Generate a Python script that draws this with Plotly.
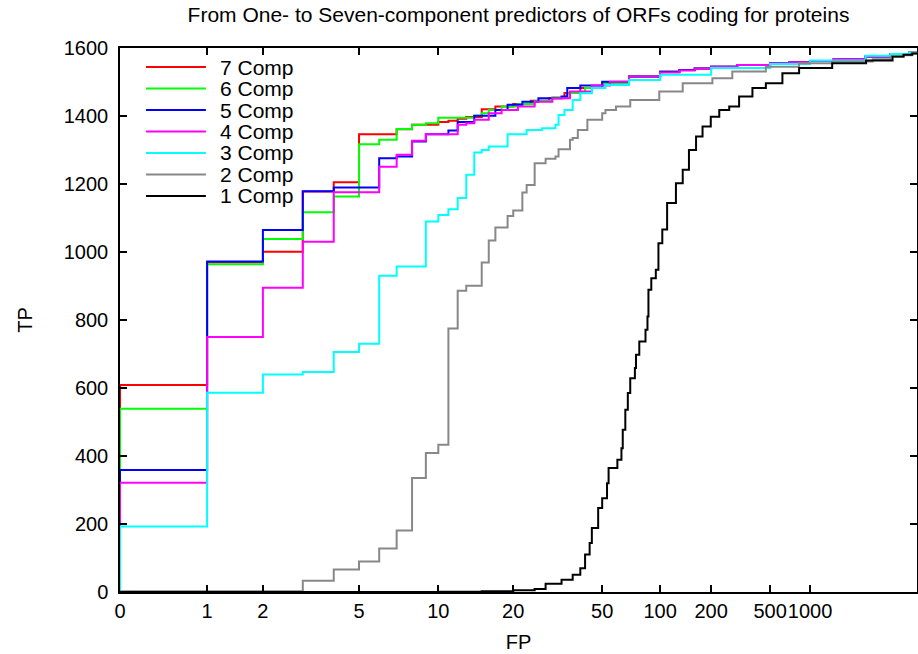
import numpy as np
import plotly.graph_objects as go

# ---------------- data ----------------
FP7 = [0, 0, 1, 2, 3, 4, 5, 7, 8, 10, 11, 12, 13, 15, 17, 20, 24, 29, 34, 40, 50, 69, 100, 130, 160, 200, 300, 500, 700, 1000, 1500, 2600, 4000, 5500, 6300]
TP7 = [0, 609, 970, 1001, 1178, 1205, 1346, 1361, 1374, 1382, 1386, 1392, 1397, 1420, 1428, 1435, 1445, 1452, 1468, 1482, 1496, 1516, 1530, 1535, 1540, 1545, 1550, 1555, 1558, 1562, 1567, 1575, 1582, 1586, 1588]

FP6 = [0, 0, 1, 2, 3, 4, 5, 6, 7, 8, 9, 10, 14, 15, 16, 18, 21, 25, 30, 35, 42, 50, 69, 100, 130, 160, 200, 300, 500, 700, 1000, 1500, 2600, 4000, 5500, 6300]
TP6 = [0, 539, 964, 1038, 1117, 1163, 1317, 1330, 1362, 1374, 1379, 1395, 1401, 1408, 1418, 1428, 1435, 1445, 1455, 1468, 1482, 1496, 1516, 1530, 1535, 1540, 1545, 1550, 1555, 1558, 1562, 1567, 1575, 1582, 1586, 1588]

FP5 = [0, 0, 1, 2, 3, 4, 6, 7, 8, 9, 11, 12, 14, 17, 19, 22, 26, 33, 35, 40, 50, 69, 100, 130, 160, 200, 300, 500, 700, 1000, 1500, 2600, 4000, 5500, 6300]
TP5 = [0, 359, 972, 1065, 1179, 1190, 1276, 1281, 1325, 1346, 1357, 1382, 1401, 1418, 1433, 1442, 1452, 1457, 1482, 1490, 1501, 1516, 1530, 1535, 1540, 1545, 1550, 1555, 1558, 1562, 1567, 1575, 1582, 1586, 1588]

FP4 = [0, 0, 1, 2, 3, 4, 6, 7, 8, 9, 12, 13, 14, 16, 18, 21, 25, 30, 36, 45, 55, 69, 100, 130, 160, 200, 300, 500, 700, 1000, 1500, 2600, 4000, 5500, 6300]
TP4 = [0, 321, 750, 895, 1030, 1176, 1251, 1286, 1327, 1346, 1374, 1379, 1389, 1408, 1418, 1428, 1442, 1452, 1472, 1490, 1501, 1516, 1528, 1534, 1539, 1545, 1550, 1555, 1558, 1562, 1567, 1575, 1582, 1586, 1588]

FP3 = [0, 0, 1, 2, 3, 4, 5, 6, 7, 9, 10, 11, 12, 13, 14, 15, 16, 19, 23, 27, 31, 32, 34, 37, 40, 45, 52, 69, 100, 200, 500, 1000, 2600, 4000, 5500, 6300]
TP3 = [0, 193, 586, 640, 647, 706, 730, 930, 957, 1090, 1109, 1126, 1159, 1227, 1293, 1300, 1310, 1346, 1359, 1364, 1374, 1403, 1418, 1447, 1467, 1482, 1491, 1506, 1521, 1541, 1553, 1563, 1577, 1582, 1586, 1588]

FP2 = [0, 3, 4, 5, 6, 7, 8, 9, 10, 11, 12, 13, 15, 16, 17, 19, 20, 22, 23, 25, 28, 31, 32, 36, 37, 39, 43, 50, 52, 59, 70, 99, 136, 204, 278, 468, 827, 1471, 2941, 4000, 5000, 5800, 6300]
TP2 = [2, 33, 66, 90, 128, 181, 335, 409, 433, 775, 886, 901, 969, 1034, 1072, 1106, 1122, 1175, 1197, 1261, 1274, 1281, 1302, 1330, 1335, 1359, 1389, 1408, 1418, 1428, 1447, 1472, 1496, 1511, 1531, 1545, 1555, 1560, 1567, 1574, 1579, 1584, 1587]

FP1 = [0, 10, 15, 20, 25, 28, 33, 37, 40, 42, 44, 45, 48, 50, 53, 54, 60, 63, 64, 66, 68, 70, 74, 75, 78, 84, 86, 87, 90, 95, 98, 103, 110, 124, 136, 148, 163, 178, 199, 227, 265, 309, 380, 468, 619, 827, 1464, 2623, 4136, 5000, 5800, 6300]
TP1 = [0, 1, 2, 5, 9, 24, 36, 51, 70, 110, 144, 188, 247, 276, 320, 365, 389, 423, 477, 536, 585, 629, 659, 698, 737, 771, 810, 889, 923, 948, 1026, 1066, 1144, 1202, 1242, 1300, 1340, 1369, 1398, 1418, 1428, 1457, 1482, 1496, 1526, 1541, 1555, 1563, 1575, 1580, 1584, 1587]

SERIES = ["7 Comp", "6 Comp", "5 Comp", "4 Comp", "3 Comp", "2 Comp", "1 Comp"]
COLORS = ["#ff0000", "#00ff00", "#0000ff", "#ff00ff", "#00ffff", "#888888", "#000000"]
DATA_FP = [FP7, FP6, FP5, FP4, FP3, FP2, FP1]
DATA_TP = [TP7, TP6, TP5, TP4, TP3, TP2, TP1]

TICK_FP = [0, 1, 2, 5, 10, 20, 50, 100, 200, 500, 1000]
TICK_TEXT = ["0", "1", "2", "5", "10", "20", "50", "100", "200", "500", "1000"]

# nonlinear FP axis scale (anchor FP value -> fraction of axis width)
SCALE_FP = [0, 1, 2, 5, 10, 20, 50, 100, 200, 500, 1000, 6300]
SCALE_POS = [0, 0.1093, 0.1793, 0.2999, 0.3994, 0.4934, 0.6050, 0.6777, 0.7417, 0.8157, 0.8658, 1.0]


def fx(v):
    return np.interp(np.log10(1 + np.asarray(v, float)),
                     np.log10(1 + np.asarray(SCALE_FP, float)), SCALE_POS)


FONT = "Liberation Sans, Arial, sans-serif"
fig = go.Figure()
for name, col, xs, ys in zip(SERIES, COLORS, DATA_FP, DATA_TP):
    fig.add_trace(go.Scatter(x=fx(xs), y=ys, mode="lines", name=name,
                             line=dict(color=col, width=2, shape="hv"),
                             showlegend=False))

# legend drawn manually (long line samples like the original)
L_X0, L_X1, L_TX = 0.0326, 0.1078, 0.1228
L_Y = [0.965, 0.9256, 0.886, 0.8465, 0.807, 0.7675, 0.728]
for name, col, yy in zip(SERIES, COLORS, L_Y):
    fig.add_shape(type="line", xref="paper", yref="paper", x0=L_X0, x1=L_X1,
                  y0=yy, y1=yy, line=dict(color=col, width=2))
    fig.add_annotation(xref="paper", yref="paper", x=L_TX, y=yy, text=name,
                       showarrow=False, xanchor="left", yanchor="middle",
                       font=dict(family=FONT, size=21, color="black"))

fig.update_layout(
    width=918, height=654,
    margin=dict(l=120, r=1, t=48, b=62),
    paper_bgcolor="white", plot_bgcolor="white",
    font=dict(family=FONT, size=20, color="black"),
    title=dict(text="From One- to Seven-component predictors of ORFs coding for proteins",
               x=0.5, xref="paper", y=1 - 15 / 654, yref="container",
               xanchor="center", yanchor="middle",
               font=dict(family=FONT, size=21, color="black")),
)
fig.update_xaxes(range=[0, 1], tickmode="array", tickvals=fx(TICK_FP), ticktext=TICK_TEXT,
                 ticks="inside", ticklen=7, tickwidth=1.5, tickcolor="black",
                 showline=True, linecolor="black", linewidth=1.5, mirror="ticks",
                 showgrid=False, zeroline=False, ticklabelstandoff=0, tickangle=0,
                 automargin=False,
                 tickfont=dict(family=FONT, size=20),
                 title=dict(text="FP", standoff=14, font=dict(family=FONT, size=20)))
fig.update_yaxes(range=[0, 1600], tickmode="linear", tick0=0, dtick=200,
                 ticks="inside", ticklen=7, tickwidth=1.5, tickcolor="black",
                 showline=True, linecolor="black", linewidth=1.5, mirror="ticks",
                 showgrid=False, zeroline=False, ticklabelstandoff=6, automargin=False,
                 tickfont=dict(family=FONT, size=20),
                 title=dict(text="TP", standoff=26, font=dict(family=FONT, size=20)))

fig.write_html("out.html")
